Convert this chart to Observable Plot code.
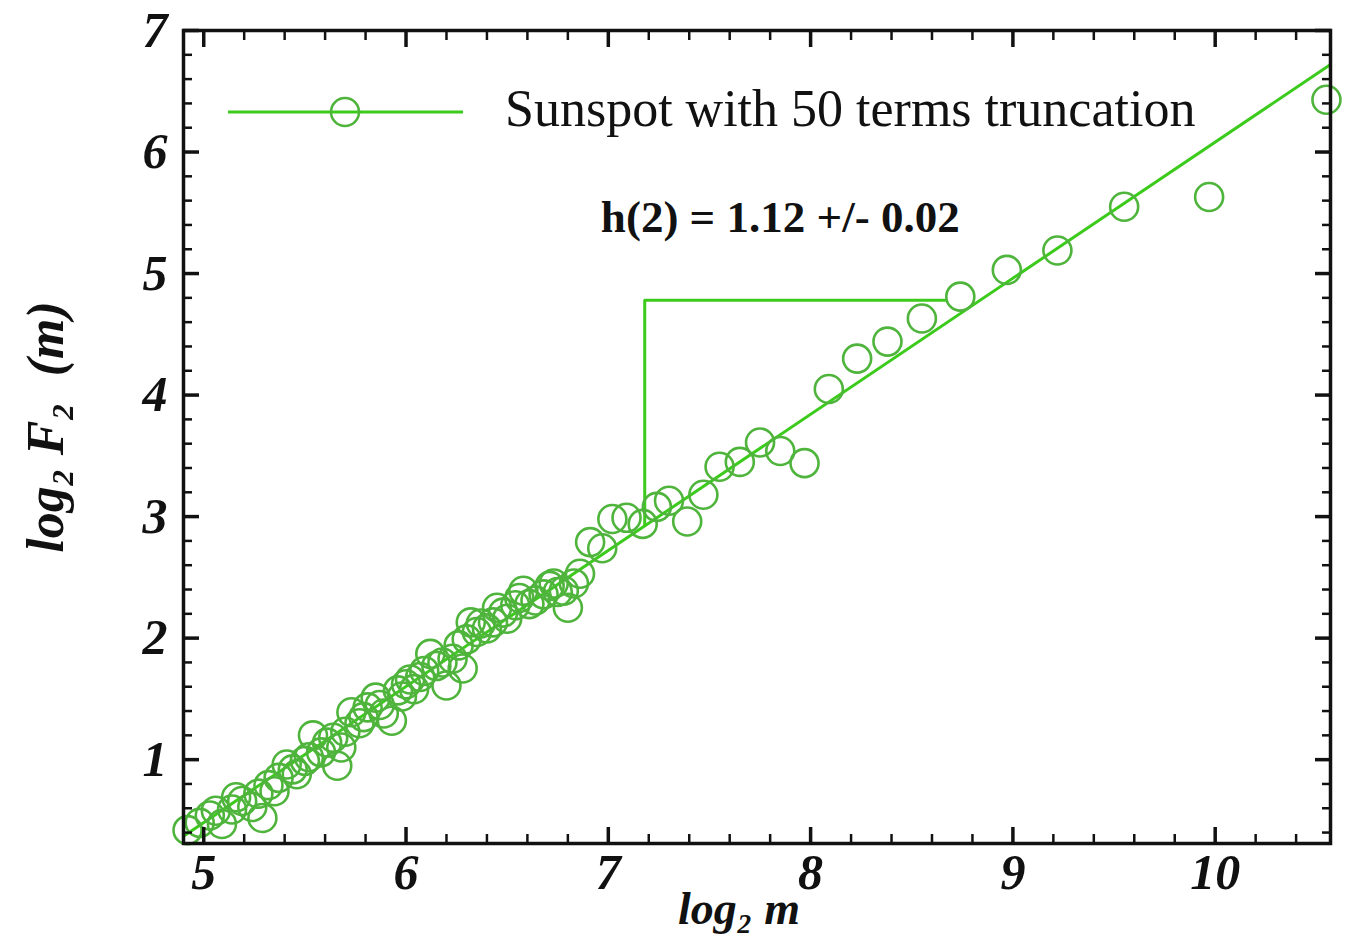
<!DOCTYPE html>
<html>
<head>
<meta charset="utf-8">
<script src="https://cdn.jsdelivr.net/npm/d3@7"></script>
<script src="https://cdn.jsdelivr.net/npm/@observablehq/plot@0.6"></script>
<style>
  html, body { margin: 0; padding: 0; background: #ffffff; }
  #chart { position: relative; width: 1356px; height: 938px; }
  #legend { position: absolute; left: 0; top: 0; pointer-events: none; }
</style>
</head>
<body>
<div id="chart"></div>
<script>
// ---- data ----
const logM = [4.92, 4.98, 5.03, 5.06, 5.09, 5.14, 5.16, 5.19, 5.24, 5.27,
              5.29, 5.32, 5.35, 5.37, 5.41, 5.44, 5.46, 5.50, 5.52, 5.54,
              5.58, 5.61, 5.64, 5.66, 5.68, 5.70, 5.73, 5.77, 5.79, 5.81,
              5.85, 5.87, 5.89, 5.93, 5.96, 5.98, 6.00, 6.02, 6.04, 6.07,
              6.09, 6.12, 6.15, 6.18, 6.20, 6.23, 6.26, 6.28, 6.30, 6.32,
              6.35, 6.37, 6.40, 6.43, 6.45, 6.48, 6.50, 6.54, 6.56, 6.58,
              6.61, 6.64, 6.68, 6.71, 6.73, 6.75, 6.78, 6.80, 6.83, 6.86,
              6.91, 6.97, 7.02, 7.09, 7.17, 7.24, 7.30, 7.39, 7.47, 7.55,
              7.65, 7.75, 7.85, 7.97, 8.09, 8.23, 8.38, 8.55, 8.74, 8.97,
              9.22, 9.55, 9.97, 10.55];
const logF = [0.42, 0.48, 0.54, 0.58, 0.47, 0.59, 0.69, 0.66, 0.61, 0.72,
              0.52, 0.79, 0.74, 0.85, 0.96, 0.92, 0.88, 0.99, 1.02, 1.20,
              1.06, 1.14, 1.18, 0.95, 1.10, 1.23, 1.39, 1.30, 1.35, 1.43,
              1.51, 1.45, 1.38, 1.32, 1.57, 1.52, 1.62, 1.66, 1.58, 1.68,
              1.73, 1.87, 1.77, 1.80, 1.61, 1.83, 1.94, 1.75, 1.99, 2.13,
              2.05, 2.12, 2.08, 2.13, 2.25, 2.21, 2.16, 2.27, 2.33, 2.39,
              2.28, 2.31, 2.36, 2.43, 2.45, 2.38, 2.39, 2.25, 2.45, 2.53,
              2.79, 2.74, 2.98, 2.99, 2.94, 3.08, 3.13, 2.96, 3.18, 3.41,
              3.45, 3.61, 3.54, 3.44, 4.05, 4.30, 4.44, 4.63, 4.81, 5.03,
              5.19, 5.55, 5.63, 6.43];
const fitX = [4.9, 10.57];
const fitY = [0.37, 6.72];
const triX = [7.18, 7.18, 8.67];
const triY = [2.93, 4.78, 4.78];
const xMajor = [5, 6, 7, 8, 9, 10];
const xMinor = [5.2, 5.4, 5.6, 5.8, 6.2, 6.4, 6.6, 6.8, 7.2, 7.4, 7.6, 7.8,
                8.2, 8.4, 8.6, 8.8, 9.2, 9.4, 9.6, 9.8, 10.2, 10.4];
const yMajor = [1, 2, 3, 4, 5, 6, 7];
const yMinor = [0.4, 0.6, 0.8, 1.2, 1.4, 1.6, 1.8, 2.2, 2.4, 2.6, 2.8,
                3.2, 3.4, 3.6, 3.8, 4.2, 4.4, 4.6, 4.8, 5.2, 5.4, 5.6, 5.8,
                6.2, 6.4, 6.6, 6.8];
const seriesName = "Sunspot with 50 terms truncation";
const annotText = ["h(2) = 1.12 +/- 0.02"];
const annotX = [7.85];
const annotY = [5.46];
const xTitle = ["log\u2082 m"];
const yTitle = ["log\u2082 F\u2082  (m)"];

// ---- derived tables ----
const points = logM.map((x, i) => ({x, y: logF[i]}));
const fit = fitX.map((x, i) => ({x, y: fitY[i]}));
const tri = triX.map((x, i) => ({x, y: triY[i]}));
const annot = annotText.map((t, i) => ({t, x: annotX[i], y: annotY[i]}));

const lineColor = "#3ccb1c";
const dotColor = "#4fb43c";
const serif = "'Liberation Serif', 'Times New Roman', serif";
const tickFont = {fontFamily: serif, fontSize: 50, fontWeight: "bold", fontStyle: "italic", fill: "#111"};

const plot = Plot.plot({
  width: 1356,
  height: 938,
  marginLeft: 183,
  marginRight: 26,
  marginTop: 30,
  marginBottom: 95,
  style: {background: "#ffffff", color: "#111"},
  x: {domain: [4.9, 10.57], axis: null},
  y: {domain: [0.31, 7], axis: null},
  marks: [
    Plot.line(fit, {x: "x", y: "y", stroke: lineColor, strokeWidth: 3}),
    Plot.line(tri, {x: "x", y: "y", stroke: lineColor, strokeWidth: 3}),
    Plot.dot(points, {x: "x", y: "y", r: 14, stroke: dotColor, strokeWidth: 2.6, fill: "none"}),
    // inward ticks, all four sides
    Plot.axisX(xMajor, {anchor: "bottom", tickSize: -16, strokeWidth: 3.5, text: null, label: null}),
    Plot.axisX(xMinor, {anchor: "bottom", tickSize: -9, strokeWidth: 2.5, text: null, label: null}),
    Plot.axisX(xMajor, {anchor: "top", tickSize: -16, strokeWidth: 3.5, text: null, label: null}),
    Plot.axisX(xMinor, {anchor: "top", tickSize: -9, strokeWidth: 2.5, text: null, label: null}),
    Plot.axisY(yMajor, {anchor: "left", tickSize: -16, strokeWidth: 3.5, text: null, label: null}),
    Plot.axisY(yMinor, {anchor: "left", tickSize: -9, strokeWidth: 2.5, text: null, label: null}),
    Plot.axisY(yMajor, {anchor: "right", tickSize: -16, strokeWidth: 3.5, text: null, label: null}),
    Plot.axisY(yMinor, {anchor: "right", tickSize: -9, strokeWidth: 2.5, text: null, label: null}),
    // tick labels
    Plot.axisX(xMajor, {anchor: "bottom", tickSize: 0, tickPadding: 10, tickFormat: d => String(d), label: null, ...tickFont}),
    Plot.axisY(yMajor, {anchor: "left", tickSize: 0, tickPadding: 16, tickFormat: d => String(d), label: null, ...tickFont}),
    Plot.frame({stroke: "#111", strokeWidth: 3.5}),
    // axis titles
    Plot.text(xTitle, {frameAnchor: "bottom", dx: -18, dy: 66, textAnchor: "middle", lineAnchor: "middle", text: d => d, fontFamily: serif, fontSize: 46, fontWeight: "bold", fontStyle: "italic", fill: "#111"}),
    Plot.text(yTitle, {frameAnchor: "left", dx: -137, dy: -10, textAnchor: "middle", lineAnchor: "middle", rotate: -90, text: d => d, fontFamily: serif, fontSize: 52, fontWeight: "bold", fontStyle: "italic", fill: "#111"}),
    // annotation
    Plot.text(annot, {x: "x", y: "y", text: "t", fontFamily: serif, fontSize: 45, fontWeight: "bold", fill: "#111"})
  ]
});

const chart = document.getElementById("chart");
chart.appendChild(plot);

// legend (inside the frame, top-left)
const ns = "http://www.w3.org/2000/svg";
const leg = document.createElementNS(ns, "svg");
leg.setAttribute("id", "legend");
leg.setAttribute("width", "1356");
leg.setAttribute("height", "160");
const ln = document.createElementNS(ns, "line");
ln.setAttribute("x1", "228"); ln.setAttribute("x2", "463");
ln.setAttribute("y1", "112"); ln.setAttribute("y2", "112");
ln.setAttribute("stroke", lineColor); ln.setAttribute("stroke-width", "3");
leg.appendChild(ln);
const c = document.createElementNS(ns, "circle");
c.setAttribute("cx", "345"); c.setAttribute("cy", "112"); c.setAttribute("r", "14");
c.setAttribute("fill", "none"); c.setAttribute("stroke", dotColor); c.setAttribute("stroke-width", "2.6");
leg.appendChild(c);
const t = document.createElementNS(ns, "text");
t.setAttribute("x", "505"); t.setAttribute("y", "126");
t.setAttribute("font-family", serif); t.setAttribute("font-size", "52");
t.setAttribute("fill", "#111");
t.textContent = seriesName;
leg.appendChild(t);
chart.appendChild(leg);
</script>
</body>
</html>
